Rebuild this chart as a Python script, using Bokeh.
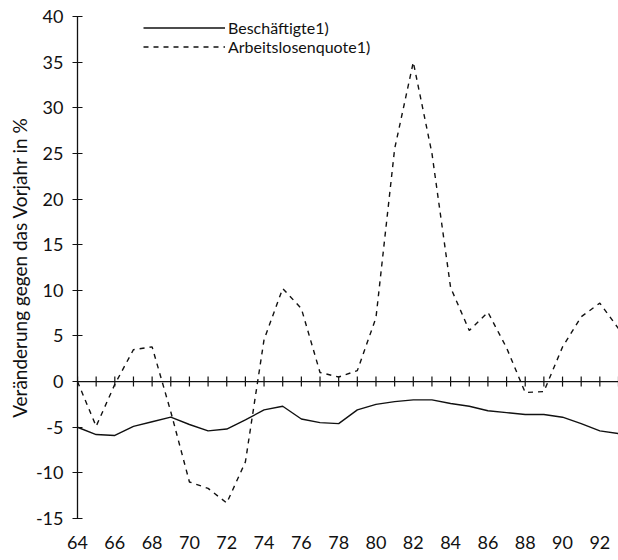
from bokeh.plotting import figure
from bokeh.models import FixedTicker, Span, Legend, LegendItem, Range1d
from bokeh.embed import file_html
from bokeh.resources import INLINE

# ---- data ----
years = list(range(64, 94))
beschaeftigte = [-5.0, -5.8, -5.9, -4.9, -4.4, -3.9, -4.7, -5.4, -5.2, -4.2,
                 -3.1, -2.7, -4.1, -4.5, -4.6, -3.1, -2.5, -2.2, -2.0, -2.0,
                 -2.4, -2.7, -3.2, -3.4, -3.6, -3.6, -3.9, -4.6, -5.4, -5.7]
arbeitslosenquote = [0.0, -4.9, -0.3, 3.5, 3.8, -3.3, -11.0, -11.7, -13.3, -8.8,
                     4.6, 10.2, 8.0, 1.0, 0.5, 1.2, 7.0, 25.5, 35.0, 25.0,
                     10.3, 5.6, 7.6, 3.7, -1.2, -1.1, 3.8, 7.1, 8.6, 5.8]
x_ticks = list(range(64, 93, 2))
x_tick_labels = [str(t) for t in x_ticks]
y_ticks = list(range(-15, 41, 5))
y_tick_labels = ["-15", "-10", "-5", "0", "5", "10", "15", "20", "25", "30", "35", "40"]
series_labels = ["Beschäftigte1)", "Arbeitslosenquote1)"]
y_axis_title = "Veränderung gegen das Vorjahr in %"

FONT = "Lato"
INK = "#111111"

p = figure(width=618, height=560, output_backend="svg", toolbar_location=None,
           x_range=Range1d(64, 93), y_range=Range1d(-15, 40),
           min_border_left=77, min_border_right=0, min_border_top=16, min_border_bottom=42)
p.outline_line_color = None
p.xgrid.visible = False
p.ygrid.visible = False
p.background_fill_color = "white"
p.border_fill_color = "white"

# y axis
ya = p.yaxis[0]
ya.ticker = FixedTicker(ticks=y_ticks)
ya.major_label_overrides = dict(zip(y_ticks, y_tick_labels))
ya.major_tick_in = 5
ya.major_tick_out = 5
ya.minor_tick_line_color = None
ya.axis_line_color = INK
ya.axis_line_width = 1.3
ya.major_tick_line_color = INK
ya.major_tick_line_width = 1.2
ya.major_label_standoff = 9
ya.major_label_text_font = FONT
ya.major_label_text_font_size = "18px"
ya.major_label_text_color = INK
ya.axis_label = y_axis_title
ya.axis_label_text_font = FONT
ya.axis_label_text_font_size = "19px"
ya.axis_label_text_font_style = "normal"
ya.axis_label_text_color = INK
ya.axis_label_standoff = 2

# x axis (labels only)
xa = p.xaxis[0]
xa.ticker = FixedTicker(ticks=x_ticks)
xa.major_label_overrides = dict(zip(x_ticks, x_tick_labels))
xa.axis_line_color = None
xa.major_tick_line_color = None
xa.minor_tick_line_color = None
xa.major_tick_out = 0
xa.major_tick_in = 0
xa.major_label_standoff = 17
xa.major_label_text_font = FONT
xa.major_label_text_font_size = "18px"
xa.major_label_text_color = INK

# zero line with yearly ticks
p.add_layout(Span(location=0, dimension="width", line_color=INK, line_width=1.3))
tick_half = 0.55
p.segment(x0=years, y0=[-tick_half] * len(years), x1=years, y1=[tick_half] * len(years),
          line_color=INK, line_width=1.2)

r1 = p.line(years, beschaeftigte, line_color=INK, line_width=1.4)
r2 = p.line(years, arbeitslosenquote, line_color=INK, line_width=1.4, line_dash="5 5")

legend = Legend(items=[LegendItem(label=series_labels[0], renderers=[r1]),
                       LegendItem(label=series_labels[1], renderers=[r2])],
                location=(66, 462), glyph_width=82, glyph_height=19, label_height=19,
                spacing=0, padding=0, margin=0, label_standoff=3,
                border_line_color=None, background_fill_alpha=0,
                label_text_font=FONT, label_text_font_size="16px", label_text_color=INK)
p.add_layout(legend)

open("out.html", "w").write(file_html(p, INLINE))
